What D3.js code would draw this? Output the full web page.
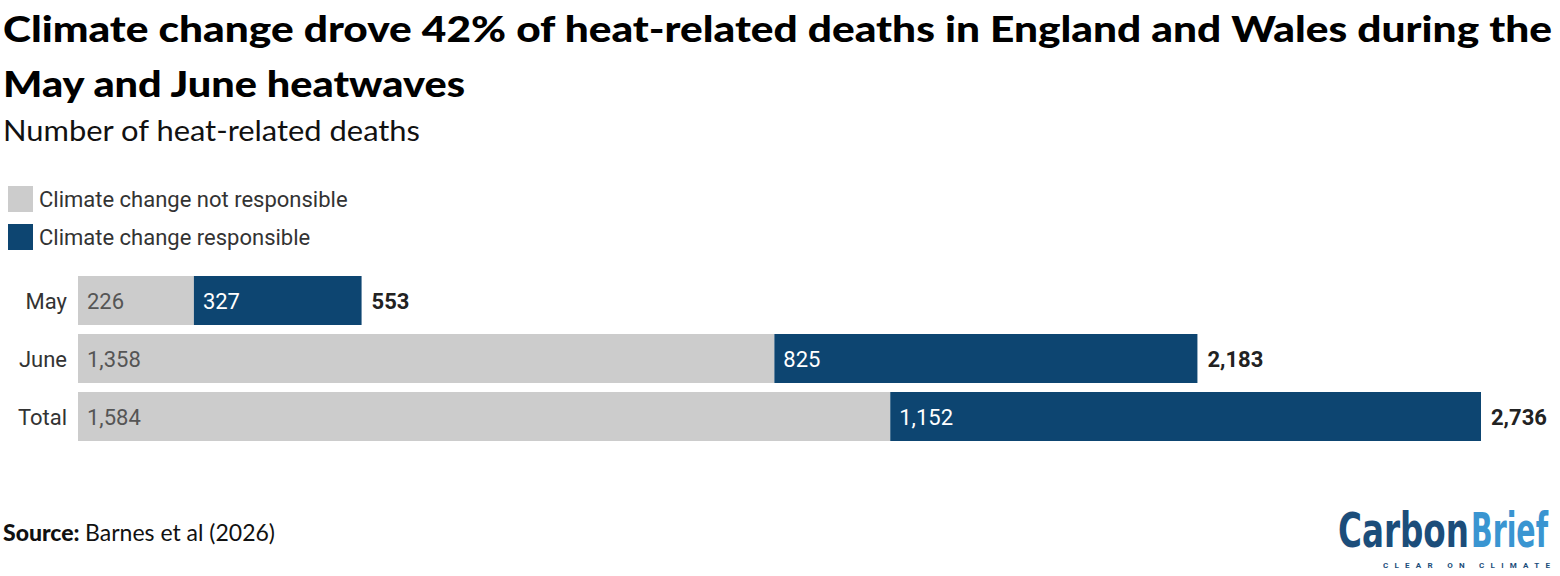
<!doctype html>
<html lang="en">
<head>
<meta charset="utf-8">
<title>Heat-related deaths</title>
<style>
  body { margin: 0; background: #fff; }
  svg text { font-family: Roboto, sans-serif; }
</style>
</head>
<body>
<script src="https://cdn.jsdelivr.net/npm/d3@7"></script>
<script>

var categories = ["May", "June", "Total"];
var notResponsible = [226, 1358, 1584];
var responsible = [327, 825, 1152];
var totals = [553, 2183, 2736];
var seriesNames = ["Climate change not responsible", "Climate change responsible"];
var colors = ["#cccccc", "#0d4571"];

var W = 1560, H = 576;
var margin = {left: 78, top: 276};
var plotW = 1481 - margin.left;

var svg = d3.select("body").append("svg")
  .attr("width", W)
  .attr("height", H);

// title + subtitle
var titleFont = "Lato, 'Open Sans', sans-serif";
svg.append("text")
  .attr("x", 3).attr("y", 42)
  .attr("textLength", 1549).attr("lengthAdjust", "spacingAndGlyphs")
  .style("font-family", titleFont).style("font-weight", "900").style("font-size", "36px")
  .attr("fill", "#000")
  .text("Climate change drove 42% of heat-related deaths in England and Wales during the");
svg.append("text")
  .attr("x", 3).attr("y", 97)
  .attr("textLength", 462).attr("lengthAdjust", "spacingAndGlyphs")
  .style("font-family", titleFont).style("font-weight", "900").style("font-size", "36px")
  .attr("fill", "#000")
  .text("May and June heatwaves");
svg.append("text")
  .attr("x", 3).attr("y", 141)
  .attr("textLength", 417).attr("lengthAdjust", "spacingAndGlyphs")
  .style("font-family", titleFont).style("font-size", "28px")
  .attr("fill", "#111")
  .text("Number of heat-related deaths");

// legend
var legend = svg.append("g");
seriesNames.forEach(function(name, i) {
  legend.append("rect")
    .attr("x", 8).attr("y", 186 + i * 38)
    .attr("width", 25).attr("height", 26)
    .attr("fill", colors[i]);
  legend.append("text")
    .attr("x", 39).attr("y", 207 + i * 38)
    .style("font-size", "22px").attr("fill", "#333")
    .text(name);
});

// scales
var x = d3.scaleLinear()
  .domain([0, d3.max(totals)])
  .range([0, plotW]);

var y = d3.scaleBand()
  .domain(categories)
  .range([0, 58 * categories.length - 9])
  .paddingInner(9 / 58)
  .paddingOuter(0);

var chart = svg.append("g")
  .attr("transform", "translate(" + margin.left + "," + margin.top + ")");

var rows = categories.map(function(c, i) {
  return {cat: c, a: notResponsible[i], b: responsible[i], total: totals[i]};
});

var row = chart.selectAll(".row")
  .data(rows)
  .enter().append("g")
  .attr("class", "row")
  .attr("transform", function(d) { return "translate(0," + y(d.cat) + ")"; });

row.append("rect")
  .attr("x", 0)
  .attr("width", function(d) { return x(d.a); })
  .attr("height", y.bandwidth())
  .attr("fill", colors[0]);

row.append("rect")
  .attr("x", function(d) { return x(d.a); })
  .attr("width", function(d) { return x(d.b); })
  .attr("height", y.bandwidth())
  .attr("fill", colors[1]);

var fmt = d3.format(",");
var mid = y.bandwidth() / 2 + 8;

row.append("text")
  .attr("x", 9).attr("y", mid)
  .style("font-size", "22px").attr("fill", "#555")
  .text(function(d) { return fmt(d.a); });

row.append("text")
  .attr("x", function(d) { return x(d.a) + 9; }).attr("y", mid)
  .style("font-size", "22px").attr("fill", "#fff")
  .text(function(d) { return fmt(d.b); });

row.append("text")
  .attr("x", function(d) { return x(d.total) + 10; }).attr("y", mid)
  .style("font-size", "22px").style("font-weight", "bold").attr("fill", "#222")
  .text(function(d) { return fmt(d.total); });

row.append("text")
  .attr("x", -11).attr("y", mid)
  .attr("text-anchor", "end")
  .style("font-size", "22px").attr("fill", "#333")
  .text(function(d) { return d.cat; });

// source
var src = svg.append("text")
  .attr("x", 3).attr("y", 541)
  .attr("textLength", 272).attr("lengthAdjust", "spacingAndGlyphs")
  .style("font-family", titleFont).style("font-size", "23px").attr("fill", "#111");
src.append("tspan").style("font-weight", "900").text("Source: ");
src.append("tspan").text("Barnes et al (2026)");

// logo (condensed font stretched vertically)
var logoFont = "'DejaVu Sans Condensed', 'Liberation Sans Narrow', sans-serif";
var logo = svg.append("g")
  .attr("transform", "translate(1338,547) scale(1,1.35)");
logo.append("text")
  .attr("x", 0).attr("y", 0)
  .attr("textLength", 131).attr("lengthAdjust", "spacingAndGlyphs")
  .style("font-family", logoFont)
  .style("font-weight", "bold").style("font-size", "36px")
  .attr("fill", "#1c4d7a")
  .text("Carbon");
logo.append("text")
  .attr("x", 133).attr("y", 0)
  .attr("textLength", 77).attr("lengthAdjust", "spacingAndGlyphs")
  .style("font-family", logoFont)
  .style("font-weight", "bold").style("font-size", "36px")
  .attr("fill", "#3a95d1")
  .text("Brief");

svg.append("text")
  .attr("x", 1383).attr("y", 568)
  .attr("textLength", 167).attr("lengthAdjust", "spacing")
  .style("font-size", "8px").style("font-weight", "bold").attr("fill", "#1c4d7a")
  .text("CLEAR ON CLIMATE");

</script>
</body>
</html>
